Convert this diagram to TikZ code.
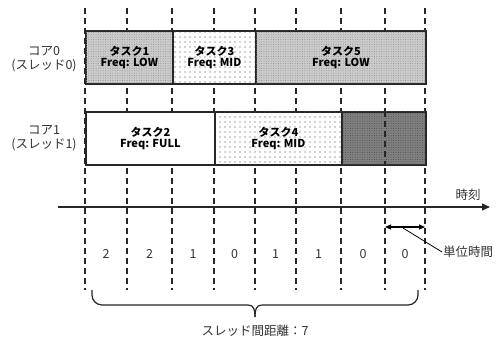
\documentclass[tikz,border=0pt]{standalone}
\usepackage{fontspec}
\setmainfont{Noto Sans CJK JP}
\usetikzlibrary{patterns.meta,arrows.meta,decorations.pathreplacing}
\tikzset{
  grid/.style={line width=1.6pt, dash pattern=on 6pt off 4pt, black!85},
  taskbox/.style={draw=black!85, line width=1.8pt, minimum height=53pt, inner sep=0pt, font=\bfseries\fontsize{11}{11.5}\selectfont, align=center, anchor=north west},
  dense/.style={fill=black!20, postaction={pattern={Dots[radius=0.5pt, distance=2.4pt]}, pattern color=black!45}},
  sparse/.style={fill=white, postaction={pattern={Dots[radius=0.55pt, distance=5pt]}, pattern color=black!75}},
  darkfill/.style={fill=black!50, postaction={pattern={Dots[radius=0.5pt, distance=2.4pt]}, pattern color=black!70}},
  lab/.style={font=\fontsize{12.5}{13.5}\selectfont, align=center, text=black!80},
  num/.style={font=\fontsize{12.5}{14}\selectfont, text=black!80},
}
\begin{document}
\begin{tikzpicture}[x=1pt,y=-1pt]
\useasboundingbox (0,0) rectangle (498,342);
% grid lines
\foreach \x [count=\i] in {85,127,172,214,255,296,341,385,425} {
  \draw[grid] (\x,8) -- (\x,290);
}
% row 0
\node[taskbox, dense, minimum width=87pt] (t1) at (85,30) {タスク1\\Freq: LOW};
\node[taskbox, sparse, minimum width=83pt] (t3) at (172,30) {タスク3\\Freq: MID};
\node[taskbox, dense, minimum width=170pt] (t5) at (255,30) {タスク5\\Freq: LOW};
% row 1
\node[taskbox, fill=white, minimum width=129pt] (t2) at (85,111) {タスク2\\Freq: FULL};
\node[taskbox, sparse, minimum width=127pt] (t4) at (214,111) {タスク4\\Freq: MID};
\node[taskbox, darkfill, minimum width=84pt] (t6) at (341,111) {};
\draw[grid] (385,111) -- (385,164);
% left labels
\node[lab] (c0) at (44,59) {コア0\\(スレッド0)};
\node[lab] (c1) at (44,138) {コア1\\(スレッド1)};
% time axis
\coordinate (ax0) at (58,207);
\coordinate (ax1) at (490,207);
\draw[line width=1.3pt, black!85, -{Triangle[length=8pt,width=7pt]}] (ax0) -- (ax1);
\node[lab, anchor=south] (tl) at (468,204) {時刻};
% unit time
\coordinate (u0) at (385,227);
\coordinate (u1) at (425,227);
\draw[line width=1.1pt, {Triangle[length=6pt,width=5pt]}-{Triangle[length=6pt,width=5pt]}] (u0) -- (u1);
\coordinate (um) at (403,228);
\node[lab, anchor=west, inner sep=1pt] (ut) at (442,252) {単位時間};
\draw[line width=0.8pt] (um) -- (ut.west);
% numbers
\foreach \x/\n in {106/2,149.5/2,193/1,234.5/0,275.5/1,318.5/1,363/0,405/0} {
  \node[num] at (\x,254) {\n};
}
% brace
\draw[line width=1.2pt, black!85, rounded corners=10pt] (92,290) -- (92,305) -- (248,305);
\draw[line width=1.2pt, black!85, rounded corners=10pt] (418,290) -- (418,305) -- (262,305);
\draw[line width=1.2pt, black!85] (248,305) .. controls (254,305) and (255,310) .. (255,317);
\draw[line width=1.2pt, black!85] (262,305) .. controls (256,305) and (255,310) .. (255,317);
\node[lab] (bl) at (255,331) {スレッド間距離：7};
\end{tikzpicture}
\end{document}
